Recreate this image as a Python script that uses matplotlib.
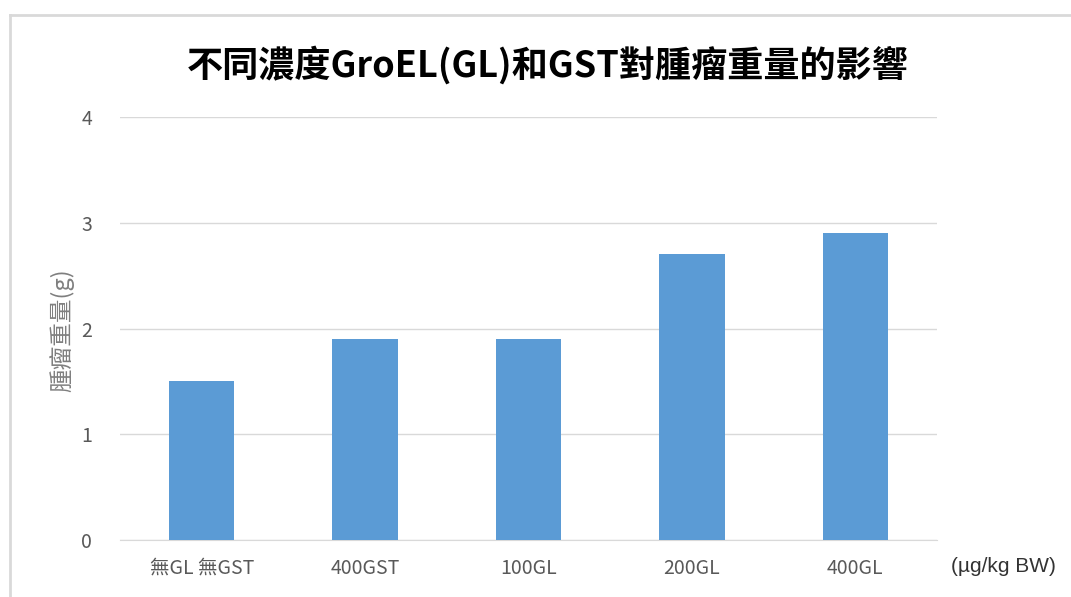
import matplotlib
matplotlib.use("Agg")
import matplotlib.pyplot as plt
from matplotlib.lines import Line2D

plt.rcParams['font.family'] = ['Noto Sans CJK TC', 'DejaVu Sans']

categories = ["無GL 無GST", "400GST", "100GL", "200GL", "400GL"]
values = [1.5, 1.9, 1.9, 2.7, 2.9]
yticks = [0, 1, 2, 3, 4]
title = "不同濃度GroEL(GL)和GST對腫瘤重量的影響"
ylabel = "腫瘤重量(g)"
unit_label = "(µg/kg BW)"

W, H = 1071, 597
fig = plt.figure(figsize=(W / 100, H / 100), dpi=100)
ax = fig.add_axes([120 / W, 1 - 540 / H, (937 - 120) / W, (540 - 117) / H])

bar_color = "#5B9BD5"
x = range(len(categories))
ax.bar(x, values, width=0.4, color=bar_color, zorder=3)
ax.set_xlim(-0.5, len(categories) - 0.5)
ax.set_ylim(0, 4)
ax.set_yticks(yticks)
ax.set_xticks(list(x))
ax.set_xticklabels(categories)
ax.grid(axis='y', color="#D9D9D9", linewidth=1, zorder=0)
for s in ["top", "right", "left"]:
    ax.spines[s].set_visible(False)
ax.spines["bottom"].set_color("#D9D9D9")
ax.tick_params(axis='both', length=0, colors="#595959", labelsize=14)
ax.tick_params(axis='x', pad=13)
ax.tick_params(axis='y', pad=20)

fig.text(548 / W, 1 - 65 / H, title, ha='center', va='center',
         fontsize=26, fontweight='bold', color='black')
fig.text(62 / W, 1 - 330 / H, ylabel, ha='center', va='center',
         rotation=90, fontsize=17, color="#7F7F7F")
fig.text(1003 / W, 1 - 567 / H, unit_label, ha='center', va='center',
         fontsize=15, color="#333333", family=['Liberation Sans', 'DejaVu Sans'])

# outer chart frame
fig.add_artist(Line2D([10 / W, 10 / W], [0, 1 - 15 / H], transform=fig.transFigure,
                      color="#D9D9D9", linewidth=2))
fig.add_artist(Line2D([10 / W, 1], [1 - 15 / H, 1 - 15 / H], transform=fig.transFigure,
                      color="#D9D9D9", linewidth=2))

fig.savefig("out.png", dpi=100, facecolor='white')
